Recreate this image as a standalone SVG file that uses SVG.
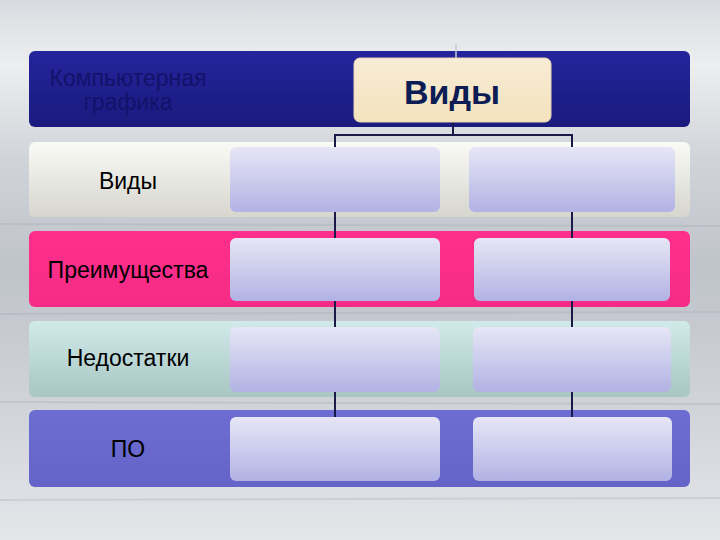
<svg xmlns="http://www.w3.org/2000/svg" width="720" height="540" viewBox="0 0 720 540">
<defs>
<linearGradient id="bg" x1="0" y1="0" x2="0" y2="1">
<stop offset="0" stop-color="#d9dbe0"/>
<stop offset="0.12" stop-color="#eceef0"/>
<stop offset="0.3" stop-color="#d0d3d8"/>
<stop offset="0.5" stop-color="#bfc3ca"/>
<stop offset="0.75" stop-color="#d0d3d8"/>
<stop offset="1" stop-color="#e4e6ea"/>
</linearGradient>
<linearGradient id="blue" x1="0" y1="0" x2="0" y2="1">
<stop offset="0" stop-color="#24249c"/>
<stop offset="1" stop-color="#1a1a7e"/>
</linearGradient>
<linearGradient id="cream" x1="0" y1="0" x2="0" y2="1">
<stop offset="0" stop-color="#f8ecd6"/>
<stop offset="1" stop-color="#f3e2bc"/>
</linearGradient>
<linearGradient id="white" x1="0" y1="0" x2="0" y2="1">
<stop offset="0" stop-color="#fafaf6"/>
<stop offset="1" stop-color="#d6d6ce"/>
</linearGradient>
<linearGradient id="pink" x1="0" y1="0" x2="0" y2="1">
<stop offset="0" stop-color="#ff2e8c"/>
<stop offset="1" stop-color="#f52c86"/>
</linearGradient>
<linearGradient id="teal" x1="0" y1="0" x2="0" y2="1">
<stop offset="0" stop-color="#d0eaea"/>
<stop offset="1" stop-color="#a8c6c2"/>
</linearGradient>
<linearGradient id="violet" x1="0" y1="0" x2="0" y2="1">
<stop offset="0" stop-color="#6c6cd2"/>
<stop offset="1" stop-color="#6464c8"/>
</linearGradient>
<linearGradient id="lav" x1="0" y1="0" x2="0" y2="1">
<stop offset="0" stop-color="#e6e6f6"/>
<stop offset="1" stop-color="#b2b2e4"/>
</linearGradient>
</defs>
<style>
.band{stroke:none}
.lbl{font-family:"Liberation Sans",Arial,sans-serif;font-size:23px;text-anchor:middle;fill:#000}
.dim{fill:#12126a}
.cell{fill:url(#lav);stroke:none}
.conn{stroke:#1a1a48;stroke-width:2;fill:none}
</style>
<rect x="0" y="0" width="720" height="540" fill="url(#bg)"/>
<g opacity="0.25" stroke="#9aa0aa" stroke-width="2">
<line x1="0" y1="224" x2="720" y2="226"/>
<line x1="0" y1="314" x2="720" y2="312"/>
<line x1="0" y1="402" x2="720" y2="404"/>
<line x1="0" y1="500" x2="720" y2="498"/>
</g>

<g id="band-graphics">
<rect class="band" x="29" y="51" width="661" height="76" rx="6" fill="url(#blue)"/>
<text class="lbl dim" x="128" y="86">Компьютерная</text>
<text class="lbl dim" x="128" y="110">графика</text>
</g>

<g id="band-vidy">
<rect class="band" x="29" y="142" width="661" height="75" rx="6" fill="url(#white)"/>
<text class="lbl" x="128" y="189">Виды</text>
</g>

<g id="band-pros">
<rect class="band" x="29" y="231" width="661" height="76" rx="6" fill="url(#pink)"/>
<text class="lbl" x="128" y="278">Преимущества</text>
</g>

<g id="band-cons">
<rect class="band" x="29" y="321" width="661" height="76" rx="6" fill="url(#teal)"/>
<text class="lbl" x="128" y="366">Недостатки</text>
</g>

<g id="band-po">
<rect class="band" x="29" y="410" width="661" height="77" rx="6" fill="url(#violet)"/>
<text class="lbl" x="128" y="457">ПО</text>
</g>

<g id="connectors">
<line class="conn" x1="456" y1="44" x2="456" y2="58" style="stroke:#c8c8d8;stroke-width:1.5"/>
<line class="conn" x1="453" y1="122" x2="453" y2="135"/>
<line class="conn" x1="334" y1="135" x2="573" y2="135"/>
<line class="conn" x1="335" y1="134" x2="335" y2="417"/>
<line class="conn" x1="572" y1="134" x2="572" y2="417"/>
</g>

<g id="root-vidy">
<rect x="354" y="58" width="197" height="64" rx="6" fill="url(#cream)" stroke="#e6d6b4" stroke-width="1"/>
<text x="452" y="104" text-anchor="middle" font-family="Liberation Sans,Arial,sans-serif" font-weight="bold" font-size="34" fill="#0c1c54">Виды</text>
</g>

<g id="cell-1-1"><rect class="cell" x="230" y="147" width="210" height="65" rx="6"/></g>
<g id="cell-1-2"><rect class="cell" x="469" y="147" width="206" height="65" rx="6"/></g>
<g id="cell-2-1"><rect class="cell" x="230" y="238" width="210" height="63" rx="6"/></g>
<g id="cell-2-2"><rect class="cell" x="474" y="238" width="196" height="63" rx="6"/></g>
<g id="cell-3-1"><rect class="cell" x="230" y="327" width="210" height="65" rx="6"/></g>
<g id="cell-3-2"><rect class="cell" x="473" y="327" width="198" height="65" rx="6"/></g>
<g id="cell-4-1"><rect class="cell" x="230" y="417" width="210" height="64" rx="6"/></g>
<g id="cell-4-2"><rect class="cell" x="473" y="417" width="199" height="64" rx="6"/></g>
</svg>
